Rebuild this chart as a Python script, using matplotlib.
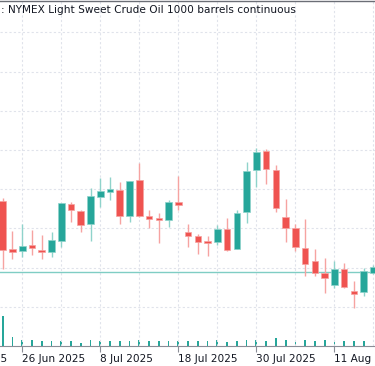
import matplotlib
matplotlib.use('Agg')
import matplotlib.pyplot as plt

# daily OHLC, 24 Jun 2025 .. 15 Aug 2025 (one entry per session)
opens = [67.40, 64.95, 64.85, 65.14, 64.90, 64.81, 65.36, 67.23, 66.89, 66.22,
         67.62, 67.87, 67.97, 66.65, 68.45, 66.65, 66.55, 66.41, 67.33, 65.83,
         65.61, 65.34, 65.29, 65.95, 64.96, 66.82, 68.99, 69.93, 68.99, 66.57,
         66.01, 65.02, 64.32, 63.72, 63.10, 63.93, 62.81, 62.74, 63.74]
highs = [67.54, 65.88, 66.22, 65.93, 65.65, 65.80, 67.32, 67.35, 66.94, 68.05,
         68.59, 68.62, 68.35, 68.42, 69.32, 66.92, 66.79, 67.45, 68.67, 66.22,
         65.70, 65.60, 66.19, 66.52, 66.92, 69.40, 70.12, 70.04, 69.25, 67.48,
         66.21, 66.48, 64.95, 64.47, 64.34, 64.22, 63.32, 63.98, 64.13]
lows = [63.91, 64.42, 64.53, 64.66, 64.42, 64.53, 65.07, 66.34, 65.83, 65.37,
        67.11, 67.43, 66.24, 66.31, 66.58, 66.04, 65.24, 66.09, 66.95, 65.07,
        64.69, 64.59, 65.17, 64.86, 64.93, 66.29, 68.13, 68.28, 66.85, 65.29,
        64.86, 63.57, 63.59, 62.72, 62.97, 62.98, 61.92, 62.55, 63.67]
closes = [64.90, 64.78, 65.09, 65.00, 64.81, 65.41, 67.28, 66.94, 66.16, 67.65,
          67.91, 68.01, 66.65, 68.40, 66.62, 66.48, 66.41, 67.36, 67.18, 65.60,
          65.29, 65.26, 65.98, 64.91, 66.77, 68.93, 69.91, 69.02, 67.03, 66.04,
          65.04, 64.17, 63.74, 63.48, 63.91, 63.01, 62.67, 63.83, 64.05]
volumes = [300, 93, 60, 60, 50, 50, 50, 50, 27, 63,
           47, 47, 50, 47, 57, 50, 50, 47, 50, 47,
           50, 47, 57, 40, 50, 60, 63, 53, 77, 60,
           50, 60, 50, 60, 50, 47, 47, 47]
price_line = 63.79

tick_pos = [2, 10, 18, 26, 34]
tick_labels = ['26 Jun 2025', '8 Jul 2025', '18 Jul 2025', '30 Jul 2025', '11 Aug 2025']
# previous label, only its tail is still on screen
prev_pos = -6
prev_label = '16 Jun 2025'
grid_pos = [-2, 2, 6, 10, 14, 18, 22, 26, 30, 34, 38]
price_grid = [62, 64, 66, 68, 70, 72, 74, 76]

up = '#26a69a'
down = '#ef5350'
up_wick = '#8fd3cb'
down_wick = '#f6a3a1'
text_col = '#131722'

fig = plt.figure(figsize=(3.75, 3.66), dpi=100)
ax = fig.add_axes([0, 20 / 366, 1, 345 / 366])

for x in grid_pos:
    ax.axvline(x, color='#e0e3eb', lw=0.8, ls=(0, (2, 2)), zorder=0)
for y in price_grid:
    ax.axhline(y, color='#e0e3eb', lw=0.8, ls=(0, (2, 2)), zorder=0)

# volume at the bottom of the pane
vax = ax.twinx()
vax.bar(range(len(volumes)), volumes, width=0.18, color=up, zorder=1)
vax.set_ylim(0, 3450)
vax.axis('off')

ax.set_zorder(vax.get_zorder() + 1)
ax.patch.set_visible(False)

ax.axhline(price_line, color='#7fcdc4', lw=1.0, zorder=1)

for i in range(len(opens)):
    o, h, l, c = opens[i], highs[i], lows[i], closes[i]
    col = up if c >= o else down
    wcol = up_wick if c >= o else down_wick
    ax.vlines(i, l, h, color=wcol, lw=1.0, zorder=2)
    ax.bar(i, abs(c - o), bottom=min(o, c), width=0.68, color=col,
           edgecolor=wcol, linewidth=0.5, zorder=3)

ax.set_xticks(tick_pos)
ax.set_xticklabels(tick_labels, ha='left', fontsize=7.6, color=text_col)
ax.tick_params(axis='x', length=4, width=0.8, color='#8a8d96', pad=1.5)
ax.set_yticks([])

ax.set_xlim(-0.28, 38.16)
ax.set_ylim(60, 77.6)

ax.annotate(prev_label, xy=(prev_pos, 0), xycoords=ax.get_xaxis_transform(),
            xytext=(0, -5.5), textcoords='offset points', ha='left', va='top',
            fontsize=7.6, color=text_col, annotation_clip=False)

for s in ['left', 'right']:
    ax.spines[s].set_visible(False)
ax.spines['bottom'].set_color('#8a8d96')
ax.spines['bottom'].set_linewidth(0.8)
ax.spines['top'].set_color('#6b6e76')
ax.spines['top'].set_linewidth(1.0)

fig.text(1 / 375, 1 - 10 / 366, ': NYMEX Light Sweet Crude Oil 1000 barrels continuous',
         ha='left', va='center', fontsize=7.6, color=text_col)

fig.savefig('out.png', dpi=100)
